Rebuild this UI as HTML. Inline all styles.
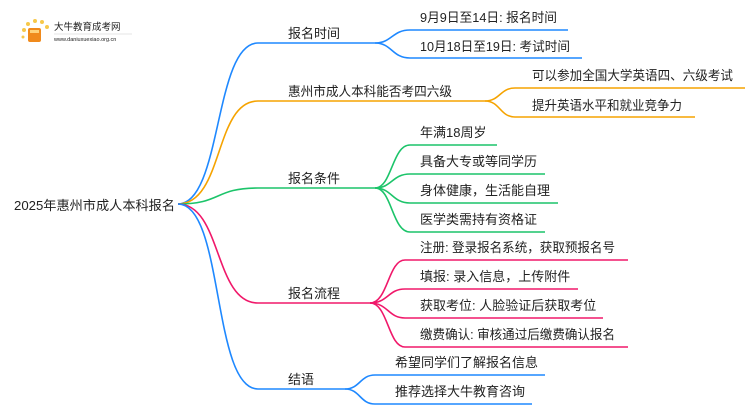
<!DOCTYPE html>
<html><head><meta charset="utf-8"><style>
html,body{margin:0;padding:0;background:#fff;width:750px;height:410px;overflow:hidden}
svg text{font-family:"Liberation Sans","Noto Sans CJK SC",sans-serif;fill:#222}
</style></head><body>
<svg width="750" height="410" viewBox="0 0 750 410" xmlns="http://www.w3.org/2000/svg">
<g fill="none" stroke-width="1.6">
<path d="M178,204 C222,204 214,43 258,43 H375" stroke="#1e88ff"/>
<path d="M178,204 C224,204 214,101 258,101 H485" stroke="#f5a300"/>
<path d="M178,204 C222,204 214,188 258,188 H375" stroke="#1cc46a"/>
<path d="M178,204 C222,204 214,303 258,303 H370" stroke="#f0186a"/>
<path d="M178,204 C224,204 212,389 258,389 H345" stroke="#1e88ff"/>
<path d="M375,43 C392,43 392,30 410,30 H568" stroke="#1e88ff"/>
<path d="M375,43 C392,43 392,58 410,58 H582" stroke="#1e88ff"/>
<path d="M485,101 C500,101 500,88 515,88 H745" stroke="#f5a300"/>
<path d="M485,101 C500,101 500,117 515,117 H695" stroke="#f5a300"/>
<path d="M375,188 C392,188 392,145 410,145 H497" stroke="#1cc46a"/>
<path d="M375,188 C392,188 392,174 410,174 H545" stroke="#1cc46a"/>
<path d="M375,188 C392,188 392,203 410,203 H558" stroke="#1cc46a"/>
<path d="M375,188 C392,188 392,232 410,232 H545" stroke="#1cc46a"/>
<path d="M370,303 C388,303 388,260 405,260 H628" stroke="#f0186a"/>
<path d="M370,303 C388,303 388,289 405,289 H578" stroke="#f0186a"/>
<path d="M370,303 C388,303 388,318 405,318 H603" stroke="#f0186a"/>
<path d="M370,303 C388,303 388,347 405,347 H628" stroke="#f0186a"/>
<path d="M345,389 C360,389 360,375 375,375 H545" stroke="#1e88ff"/>
<path d="M345,389 C360,389 360,404 375,404 H532" stroke="#1e88ff"/>
</g>
<g>
<circle cx="24" cy="30" r="2" fill="#f7c84a"/><circle cx="28" cy="24" r="2" fill="#f7c84a"/><circle cx="35" cy="21" r="2" fill="#f7c84a"/><circle cx="42" cy="22" r="2" fill="#f7c84a"/><circle cx="47" cy="27" r="2" fill="#f7c84a"/><circle cx="23" cy="37" r="1.5" fill="#f7c84a"/>
<rect x="28" y="28" width="13" height="14" rx="2" fill="#f08a1c"/>
<rect x="30" y="30" width="9" height="3" fill="#ffd27a"/>
<text x="54" y="30" font-size="9.5" fill="#444">大牛教育成考网</text>
<text x="54" y="41" font-size="5.5" fill="#666">www.daniuxuexiao.org.cn</text>
<line x1="54" y1="34" x2="132" y2="34" stroke="#ccc" stroke-width="0.5"/>
</g>
<g font-size="13">
<text x="14" y="210" textLength="161" lengthAdjust="spacingAndGlyphs">2025年惠州市成人本科报名</text>
<text x="288" y="38">报名时间</text>
<text x="288" y="96" textLength="164" lengthAdjust="spacingAndGlyphs">惠州市成人本科能否考四六级</text>
<text x="288" y="183">报名条件</text>
<text x="288" y="298">报名流程</text>
<text x="288" y="384">结语</text>
<text x="420" y="22" textLength="137" lengthAdjust="spacingAndGlyphs">9月9日至14日: 报名时间</text>
<text x="420" y="51" textLength="150" lengthAdjust="spacingAndGlyphs">10月18日至19日: 考试时间</text>
<text x="532" y="80" textLength="201" lengthAdjust="spacingAndGlyphs">可以参加全国大学英语四、六级考试</text>
<text x="532" y="110" textLength="150" lengthAdjust="spacingAndGlyphs">提升英语水平和就业竞争力</text>
<text x="420" y="137">年满18周岁</text>
<text x="420" y="166">具备大专或等同学历</text>
<text x="420" y="195">身体健康，生活能自理</text>
<text x="420" y="224">医学类需持有资格证</text>
<text x="420" y="252" textLength="195" lengthAdjust="spacingAndGlyphs">注册: 登录报名系统，获取预报名号</text>
<text x="420" y="281">填报: 录入信息，上传附件</text>
<text x="420" y="310">获取考位: 人脸验证后获取考位</text>
<text x="420" y="339" textLength="195" lengthAdjust="spacingAndGlyphs">缴费确认: 审核通过后缴费确认报名</text>
<text x="395" y="367">希望同学们了解报名信息</text>
<text x="395" y="396">推荐选择大牛教育咨询</text>
</g>
</svg>
</body></html>
